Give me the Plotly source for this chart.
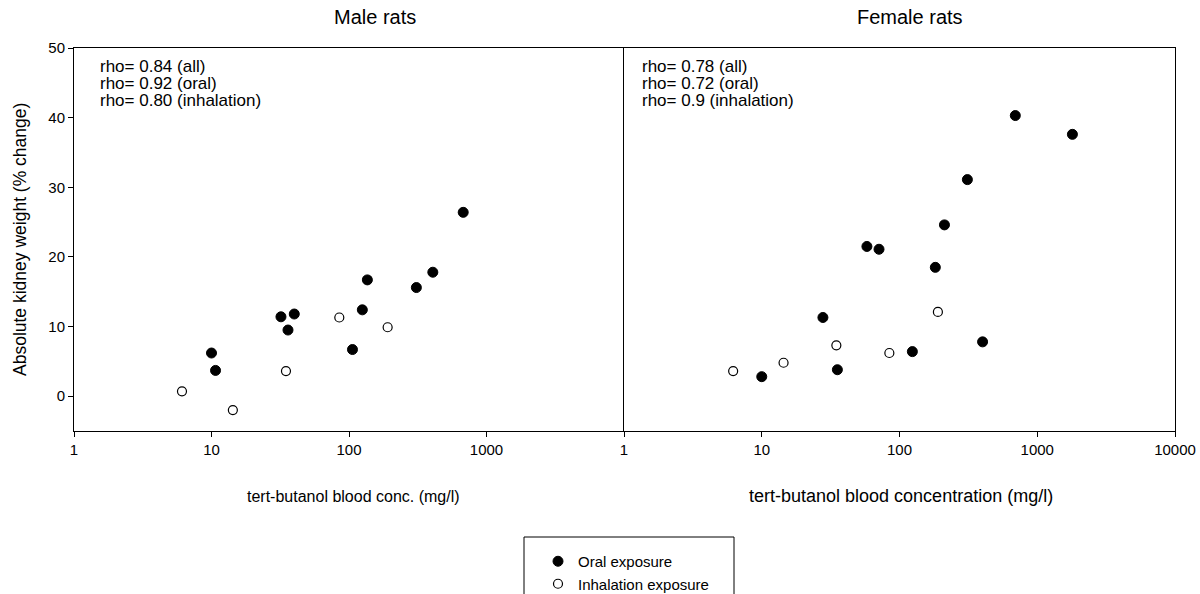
import plotly.graph_objects as go

W, H = 1200, 594

# --- data: tert-butanol blood concentration (mg/l) vs. % change in absolute kidney weight
male_oral_conc = [10, 10.7, 32, 36, 40, 106, 125, 136, 309, 407, 677]
male_oral_kidney = [6.2, 3.7, 11.4, 9.5, 11.8, 6.7, 12.4, 16.7, 15.6, 17.8, 26.4]
male_inhal_conc = [6.1, 14.3, 34.8, 85, 191]
male_inhal_kidney = [0.7, -2.0, 3.6, 11.3, 9.9]

female_oral_conc = [693, 1800, 311, 212, 58, 71, 182, 27.8, 401, 124, 35.4, 10]
female_oral_kidney = [40.3, 37.6, 31.1, 24.6, 21.5, 21.1, 18.5, 11.3, 7.8, 6.4, 3.8, 2.8]
female_inhal_conc = [6.2, 14.4, 34.8, 84.4, 190]
female_inhal_kidney = [3.6, 4.8, 7.3, 6.2, 12.1]

male_rho = ["rho= 0.84 (all)", "rho= 0.92 (oral)", "rho= 0.80 (inhalation)"]
female_rho = ["rho= 0.78 (all)", "rho= 0.72 (oral)", "rho= 0.9 (inhalation)"]

x_tickvals = [1, 10, 100, 1000, 10000]
male_ticktext = ["1", "10", "100", "1000", ""]
female_ticktext = ["1", "10", "100", "1000", "10000"]
y_tickvals = [0, 10, 20, 30, 40, 50]

FONT = "Liberation Sans, Arial, sans-serif"


def px(x):
    return x / W


def py(y):
    return 1 - y / H


# plot-area geometry (pixels)
L_LEFT, L_RIGHT, R_RIGHT = 74, 624, 1175
TOP, BOTTOM = 48, 431

filled = dict(symbol="circle", size=10, color="black", line=dict(color="black", width=1))
hollow = dict(symbol="circle", size=9, color="white", line=dict(color="black", width=1.2))

fig = go.Figure()
fig.add_trace(go.Scatter(x=male_oral_conc, y=male_oral_kidney, mode="markers", marker=filled,
                         name="Oral exposure", xaxis="x", yaxis="y"))
fig.add_trace(go.Scatter(x=male_inhal_conc, y=male_inhal_kidney, mode="markers", marker=hollow,
                         name="Inhalation exposure", xaxis="x", yaxis="y"))
fig.add_trace(go.Scatter(x=female_oral_conc, y=female_oral_kidney, mode="markers", marker=filled,
                         name="Oral exposure", showlegend=False, xaxis="x2", yaxis="y2"))
fig.add_trace(go.Scatter(x=female_inhal_conc, y=female_inhal_kidney, mode="markers", marker=hollow,
                         name="Inhalation exposure", showlegend=False, xaxis="x2", yaxis="y2"))

TICK_FONT = dict(family=FONT, size=15, color="black")
axis_common = dict(type="log", range=[0, 4], showgrid=False, zeroline=False, automargin=False,
                   showline=True, linecolor="black", linewidth=1, mirror=True,
                   ticks="outside", ticklen=5, tickcolor="black", tickfont=TICK_FONT)

fig.update_layout(
    width=W, height=H,
    margin=dict(l=0, r=0, t=0, b=0, autoexpand=False),
    paper_bgcolor="white", plot_bgcolor="white",
    font=dict(family=FONT, color="black"),
    xaxis=dict(axis_common, domain=[px(L_LEFT), px(L_RIGHT)], anchor="y",
               tickvals=x_tickvals, ticktext=male_ticktext),
    xaxis2=dict(axis_common, domain=[px(L_RIGHT), px(R_RIGHT)], anchor="y2",
                tickvals=x_tickvals, ticktext=female_ticktext),
    # the shared middle edge is drawn once, by the right panel's y axis line
    yaxis=dict(range=[-5, 50], domain=[py(BOTTOM), py(TOP)], anchor="x", automargin=False,
               showgrid=False, zeroline=False, showline=True, linecolor="black",
               linewidth=1, mirror=False, ticks="outside", ticklen=5, tickcolor="black",
               tickvals=y_tickvals, tickfont=TICK_FONT),
    yaxis2=dict(range=[-5, 50], domain=[py(BOTTOM), py(TOP)], anchor="x2", automargin=False,
                showgrid=False, zeroline=False, showline=True, linecolor="black",
                linewidth=1, mirror=True, ticks="", showticklabels=False),
    legend=dict(x=px(538), y=py(545), xanchor="left", yanchor="top",
                bgcolor="rgba(0,0,0,0)", borderwidth=0,
                font=dict(family=FONT, size=15, color="black"),
                tracegroupgap=0),
    showlegend=True,
)

# legend frame
fig.add_shape(type="rect", xref="paper", yref="paper",
              x0=px(524), x1=px(734), y0=py(610), y1=py(537),
              line=dict(color="black", width=1), fillcolor="rgba(0,0,0,0)")

ann = []
# panel titles
ann.append(dict(text="Male rats", x=px(375), y=py(17), font=dict(size=20)))
ann.append(dict(text="Female rats", x=px(910), y=py(17), font=dict(size=20)))
# axis titles
ann.append(dict(text="tert-butanol blood conc. (mg/l)", x=px(353), y=py(496), font=dict(size=16)))
ann.append(dict(text="tert-butanol blood concentration (mg/l)", x=px(901), y=py(496), font=dict(size=18)))
ann.append(dict(text="Absolute kidney weight (% change)", x=px(20), y=py(240), textangle=-90,
                font=dict(size=17.5)))
for a in ann:
    a.update(xref="paper", yref="paper", showarrow=False, xanchor="center", yanchor="middle")
    a["font"].update(family=FONT, color="black")

# correlation text in each panel
for i, (m, f) in enumerate(zip(male_rho, female_rho)):
    yy = py(66 + i * 17.5)
    ann.append(dict(text=m, x=px(98), y=yy, xref="paper", yref="paper", showarrow=False,
                    xanchor="left", yanchor="middle", font=dict(family=FONT, size=17, color="black")))
    ann.append(dict(text=f, x=px(640), y=yy, xref="paper", yref="paper", showarrow=False,
                    xanchor="left", yanchor="middle", font=dict(family=FONT, size=17, color="black")))

fig.update_layout(annotations=ann)
fig.write_html("out.html")
